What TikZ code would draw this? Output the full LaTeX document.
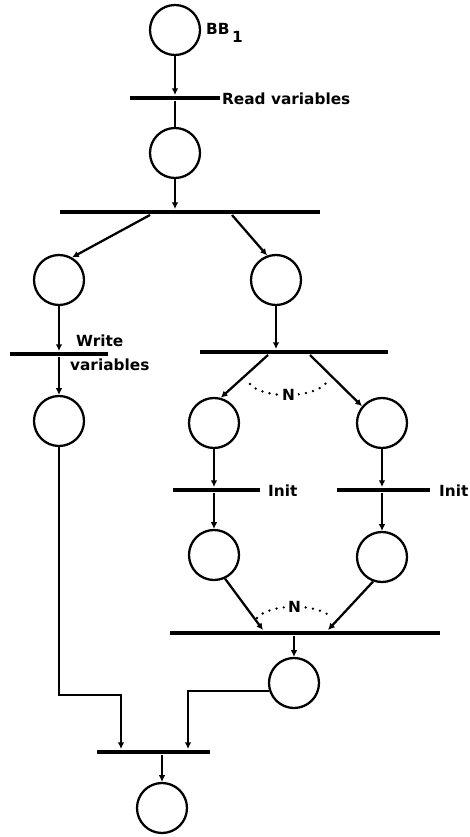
\documentclass[tikz,border=0pt]{standalone}
\usepackage{fontspec}
\setmainfont{DejaVu Sans}
\usetikzlibrary{arrows.meta}

\tikzset{every picture/.style={line width=1.7pt}}
\tikzset{
  place/.style={draw, circle, minimum size=37.5pt, inner sep=0pt},
  trans/.style={fill=black, rectangle, inner sep=0pt, minimum height=2.8pt, minimum width=#1},
  arc/.style={-{Latex[length=5pt,width=5pt]}},
  lbl/.style={inner sep=0.75pt, font=\bfseries\fontsize{11.5}{13}\selectfont},
  count/.style={line width=2pt, line cap=round, dash pattern=on 0pt off 5.5pt},
}

\begin{document}
\begin{tikzpicture}[x=0.75pt,y=0.75pt,yscale=-1,xscale=1]
	\path[use as bounding box] (0,0) rectangle (469,837);

	%Places
	\node[place] (p1) at (175,30) {};
	\node[place] (p2) at (175,153) {};
	\node[place] (p3) at (59,280) {};
	\node[place] (p4) at (276,280) {};
	\node[place] (p5) at (59,421) {};
	\node[place] (p6) at (214,423) {};
	\node[place] (p7) at (382,423) {};
	\node[place] (p8) at (214,555) {};
	\node[place] (p9) at (382,557) {};
	\node[place] (p10) at (294,683) {};
	\node[place] (p11) at (162,808) {};

	%Transitions
	\node[trans=67.5pt] (t1) at (175,98) {};
	\node[trans=195pt] (t2) at (190,212) {};
	\node[trans=73.5pt] (t3) at (59,354) {};
	\node[trans=141pt] (t4) at (294,352) {};
	\node[trans=65pt] (t5) at (216.5,490) {};
	\node[trans=70pt] (t6) at (383.5,490) {};
	\node[trans=202.5pt] (t7) at (305,633) {};
	\node[trans=85pt] (t8) at (153.5,752) {};

	%Bend points of the joining arcs
	\coordinate (j1) at (121,695);
	\coordinate (j2) at (188,0);

	%Arcs
	\draw[arc] (p1.south) -- (p1.south |- t1.north);
	\draw (p2.north |- t1.south) -- (p2.north);
	\draw[arc] (p2.south) -- (p2.south |- t2.north);
	\draw[arc] ([xshift=-30pt]t2.south) -- (p3.60);
	\draw[arc] ([xshift=31.5pt]t2.south) -- (p4.110);
	\draw[arc] (p3.south) -- (p3.south |- t3.north);
	\draw[arc] (p5.north |- t3.south) -- (p5.north);
	\draw[arc] (p4.south) -- (p4.south |- t4.north);
	\draw[arc] ([xshift=-19.5pt]t4.south) -- (p6.75);
	\draw[arc] ([xshift=12pt]t4.south) -- (p7.140);
	\draw[arc] (p6.south) -- (p6.south |- t5.north);
	\draw[arc] (p8.north |- t5.south) -- (p8.north);
	\draw[arc] (p7.south) -- (p7.south |- t6.north);
	\draw[arc] (p9.north |- t6.south) -- (p9.north);
	\draw[arc] (p8.-65) -- ([xshift=-31.5pt]t7.north);
	\draw[arc] (p9.-110) -- ([xshift=17.25pt]t7.north);
	\draw[arc] (p10.north |- t7.south) -- (p10.north);
	\draw[arc] (p5.south) |- (j1) -- (j1 |- t8.north);
	\draw[arc] (p10.198) -| (j2 |- t8.north);
	\draw[arc] (p11.north |- t8.south) -- (p11.north);

	%Dotted counters
	\draw[count] (250,384) .. controls (262,399) and (315,399) .. (327,382);
	\node[lbl, fill=white, inner sep=2pt] (n1) at (288.5,395) {N};
	\draw[count] (257,618) .. controls (270,603) and (319,603) .. (332,618);
	\node[lbl, fill=white, inner sep=2pt] (n2) at (294.5,607) {N};

	% Text Node
	\node[lbl, anchor=west] (lbb) at (204,33) {BB\hspace{2pt}\raisebox{-6pt}{1}};
	% Text Node
	\node[lbl, anchor=west] (lread) at (220,99) {Read variables};
	% Text Node
	\node[lbl, anchor=west] (lwrite) at (74,341) {Write};
	% Text Node
	\node[lbl, anchor=west] (lvars) at (68,365) {variables};
	% Text Node
	\node[lbl, anchor=west] (linit1) at (266,491) {Init};
	% Text Node
	\node[lbl, anchor=west] (linit2) at (437,491) {Init};

\end{tikzpicture}
\end{document}
